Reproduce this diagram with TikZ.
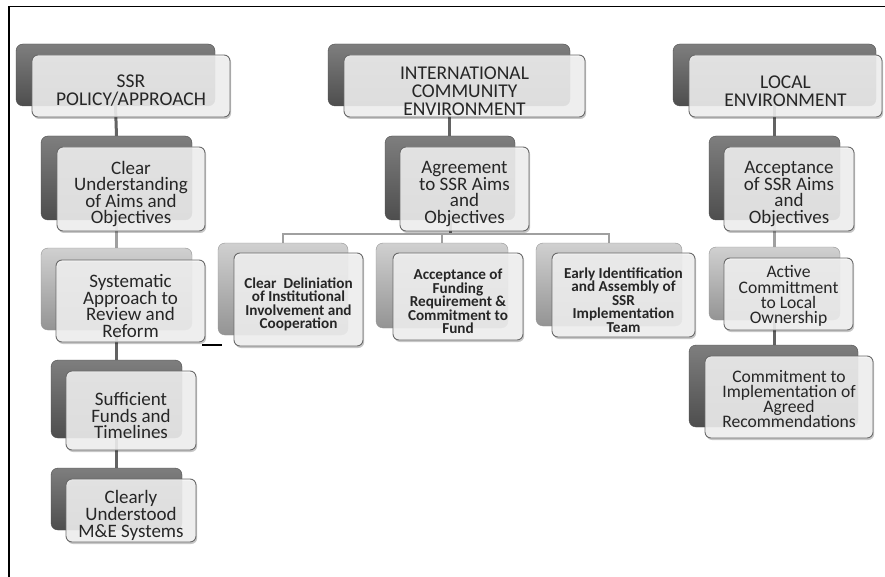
\documentclass[tikz,border=0pt]{standalone}
\usepackage{fontspec}
\setmainfont{Carlito}
\usetikzlibrary{fit,shadows}
\pgfdeclarelayer{paper}
\pgfdeclarelayer{bg}
\pgfsetlayers{paper,bg,main}

\definecolor{darkTop}{HTML}{7E7E7E}
\definecolor{darkBot}{HTML}{4E4E4E}
\definecolor{lightTop}{HTML}{D0D0D0}
\definecolor{lightBot}{HTML}{949494}
\definecolor{faceFill}{HTML}{F4F4F4}
\definecolor{faceEdge}{HTML}{6A6A6A}
\definecolor{linkDarkC}{HTML}{636363}
\definecolor{linkLightC}{HTML}{A0A0A0}
\definecolor{inkC}{HTML}{262626}

\tikzset{
  boxbase/.style={inner sep=0pt, outer sep=0pt, rounded corners=7pt},
  backdark/.style={boxbase, top color=darkTop, bottom color=darkBot, draw=darkBot, line width=0.4pt},
  backlight/.style={boxbase, top color=lightTop, bottom color=lightBot, draw=lightBot, line width=0.4pt},
  face/.style={boxbase, rounded corners=6pt, fill=faceFill, fill opacity=0.88,
    draw=faceEdge, draw opacity=1, line width=0.9pt,
    drop shadow={shadow xshift=1.2pt, shadow yshift=-2pt, opacity=0.22, fill=black}},
  label text/.style={inner sep=0pt, align=center, text=inkC, yshift=-5pt},
  headtext/.style={label text, font=\fontsize{19.5}{18}\selectfont},
  bodytext/.style={label text, font=\fontsize{19}{16.6}\selectfont},
  sidetext/.style={label text, yshift=3pt, font=\fontsize{17.6}{15.3}\selectfont},
  boldtext/.style={label text, font=\bfseries\fontsize{15.2}{13.4}\selectfont},
  darklink/.style={draw=linkDarkC, line width=3pt},
  lightlink/.style={draw=linkLightC, line width=3pt},
  buslink/.style={draw=linkLightC, line width=2.6pt},
}

\begin{document}
\begin{tikzpicture}[x=1pt, y=-1pt]
  \useasboundingbox (0,0) rectangle (885,577);
  \begin{pgfonlayer}{paper}
    \fill[white] (0,0) rectangle (885,577);
  \end{pgfonlayer}

  % frame edges
  \draw[line width=1.6pt, black] (9,577) -- (9,6.5) -- (885,6.5);

  % ---------- left column: SSR policy / approach ----------
  \node[backdark, fit={(16,44) (215,106)}] (ssrB) {};
  \node[face, fit={(32,55) (230,117)}] (ssrF) {};
  \node[headtext] (ssrT) at (ssrF) {SSR\\POLICY/APPROACH};

  \node[backdark, fit={(41,136) (192,220)}] (cuB) {};
  \node[face, fit={(57,147) (205,231)}] (cuF) {};
  \node[bodytext] (cuT) at (cuF) {Clear\\Understanding\\of Aims and\\Objectives};

  \node[backlight, fit={(41,248) (192,330)}] (saB) {};
  \node[face, fit={(56,260) (205,342)}] (saF) {};
  \node[bodytext] (saT) at (saF) {Systematic\\Approach to\\Review and\\Reform};

  \node[backdark, fit={(51,360) (182,438)}] (sfB) {};
  \node[face, fit={(66,371) (196,450)}] (sfF) {};
  \node[bodytext] (sfT) at (sfF) {Sufficient\\Funds and\\Timelines};

  \node[backdark, fit={(51,468) (182,530)}] (ceB) {};
  \node[face, fit={(66,479) (196,542)}] (ceF) {};
  \node[bodytext] (ceT) at (ceF) {Clearly\\Understood\\M\&E Systems};

  % ---------- middle column: international community ----------
  \node[backdark, fit={(328,44) (570,106)}] (icB) {};
  \node[face, fit={(344,55) (585,117)}] (icF) {};
  \node[headtext] (icT) at (icF) {INTERNATIONAL\\COMMUNITY\\ENVIRONMENT};

  \node[backdark, fit={(385,136) (515,220)}] (agB) {};
  \node[face, fit={(400,147) (529,231)}] (agF) {};
  \node[bodytext] (agT) at (agF) {Agreement\\to SSR Aims\\and\\Objectives};

  \node[backlight, fit={(218,243) (348,335)}] (cdB) {};
  \node[face, fit={(234,253) (363,346)}] (cdF) {};
  \node[boldtext] (cdT) at (cdF) {Clear\ \ Deliniation\\of Institutional\\Involvement and\\Cooperation};

  \node[backlight, fit={(376,243) (508,328)}] (afB) {};
  \node[face, fit={(393,253) (523,340)}] (afF) {};
  \node[boldtext] (afT) at (afF) {Acceptance of\\Funding\\Requirement \&\\Commitment to\\Fund};

  \node[backlight, fit={(536,243) (682,326)}] (eiB) {};
  \node[face, fit={(552,253) (695,337)}] (eiF) {};
  \node[boldtext] (eiT) at (eiF) {Early Identification\\and Assembly of\\SSR\\Implementation\\Team};

  % ---------- right column: local environment ----------
  \node[backdark, fit={(673,44) (876,106)}] (leB) {};
  \node[face, fit={(689,55) (882,117)}] (leF) {};
  \node[headtext] (leT) at (leF) {LOCAL\\ENVIRONMENT};

  \node[backdark, fit={(709,136) (840,220)}] (asB) {};
  \node[face, fit={(724,147) (854,231)}] (asF) {};
  \node[bodytext] (asT) at (asF) {Acceptance\\of SSR Aims\\and\\Objectives};

  \node[backlight, fit={(709,247) (840,320)}] (acB) {};
  \node[face, fit={(724,258) (853,330)}] (acF) {};
  \node[sidetext] (acT) at (acF) {Active\\Committment\\to Local\\Ownership};

  \node[backdark, fit={(689,345) (858,427)}] (ciB) {};
  \node[face, fit={(705,356) (873,438)}] (ciF) {};
  \node[sidetext] (ciT) at (ciF) {Commitment to\\Implementation of\\Agreed\\Recommendations};

  % stray tick beside the review box
  \coordinate (tickA) at (202,345);
  \coordinate (tickB) at (222,345);
  \draw[line width=1.4pt, black] (tickA) -- (tickB);

  % ---------- connectors ----------
  \begin{pgfonlayer}{bg}
    \draw[darklink]  (ssrB.south) -- (cuB.north);
    \draw[lightlink] (cuB.south) -- (saB.north);
    \draw[darklink]  (saB.south) -- (sfB.north);
    \draw[darklink]  (sfB.south) -- (ceB.north);

    \draw[darklink] (icB.south) -- (icB.south |- agB.north);
    \path (agB.south) ++(0,14) coordinate (hub);
    \draw[darklink] (agB.south) -- (hub);
    \draw[buslink] (cdB.north) -- (cdB.north |- hub) -- (eiB.north |- hub) -- (eiB.north);
    \draw[buslink] (afB.north) -- (afB.north |- hub);

    \draw[darklink]  (leB.south) -- (asB.north);
    \draw[lightlink] (asB.south) -- (acB.north);
    \draw[darklink]  (acB.south) -- (acB.south |- ciB.north);
  \end{pgfonlayer}
\end{tikzpicture}
\end{document}
